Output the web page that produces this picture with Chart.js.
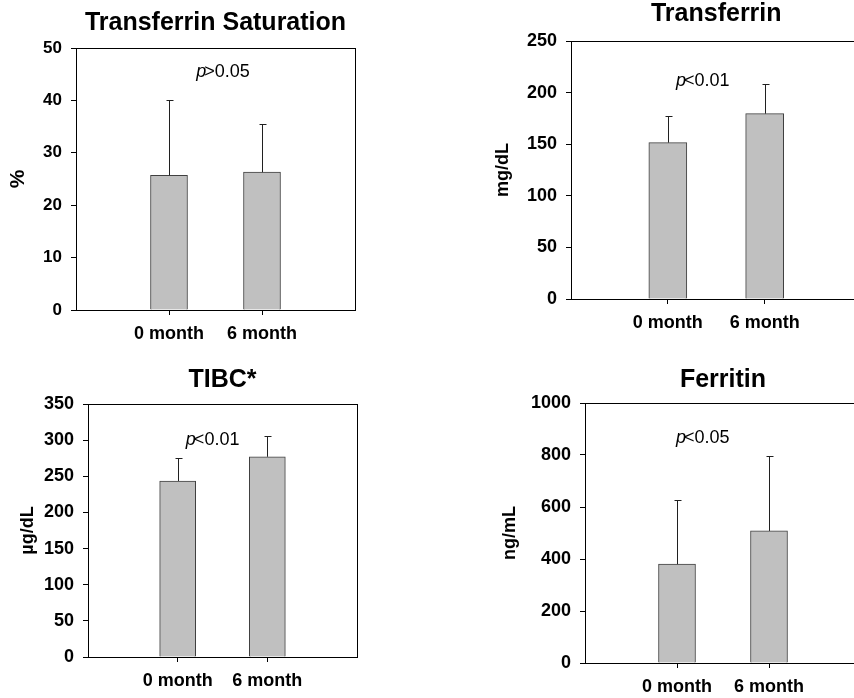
<!DOCTYPE html>
<html>
<head>
<meta charset="utf-8">
<script src="https://cdn.jsdelivr.net/npm/chart.js@4.4.1/dist/chart.umd.min.js"></script>
<style>
  html, body { margin: 0; padding: 0; background: #fff; overflow: hidden; width: 854px; height: 698px; position: relative; }
  canvas { position: absolute; }
</style>
</head>
<body>
<canvas id="satChart" width="430" height="350" style="left:0px;top:0px;width:430px;height:350px"></canvas>
<canvas id="trfChart" width="430" height="350" style="left:440px;top:0px;width:430px;height:350px"></canvas>
<canvas id="tibcChart" width="430" height="348" style="left:0px;top:350px;width:430px;height:348px"></canvas>
<canvas id="ferChart" width="430" height="348" style="left:440px;top:350px;width:430px;height:348px"></canvas>
<script>
// values (mean and upper SD)
const months = ['0 month', '6 month'];

const satMean = [25.7, 26.3];
const satSD = [14.3, 9.2];

const trfMean = [151.5, 179.6];
const trfSD = [25.8, 29.0];

const tibcMean = [243.5, 277.0];
const tibcSD = [31.5, 29.0];

const ferMean = [380, 508];
const ferSD = [246, 289];

const FONT = '"Liberation Sans", Arial, sans-serif';
Chart.defaults.font.family = FONT;
Chart.defaults.color = '#000';

function makePanel(id, p) {
  const canvas = document.getElementById(id);
  const W = canvas.width, H = canvas.height;
  const labels = ['', ...months, ''];

  // upper error bar with a small cap
  const errorBars = {
    id: 'errorBars',
    afterDatasetsDraw(chart) {
      const { ctx, scales: { y } } = chart;
      const meta = chart.getDatasetMeta(0);
      ctx.save();
      ctx.strokeStyle = '#202020';
      ctx.lineWidth = 1;
      p.mean.forEach((m, i) => {
        const bar = meta.data[i + 1];
        const px = Math.round(bar.x) + 0.5;
        const top = Math.round(y.getPixelForValue(m + p.sd[i])) + 0.5;
        ctx.beginPath();
        ctx.moveTo(px, bar.y);
        ctx.lineTo(px, top);
        ctx.moveTo(px - 3, top);
        ctx.lineTo(px + 4, top);
        ctx.stroke();
      });
      ctx.restore();
    }
  };

  // p value text
  const pLabel = {
    id: 'pLabel',
    afterDraw(chart) {
      const { ctx, scales: { x, y } } = chart;
      const cx = x.getPixelForValue(p.pPos[0]);
      const cy = y.getPixelForValue(p.pPos[1]);
      ctx.save();
      ctx.fillStyle = '#000';
      ctx.textBaseline = 'middle';
      ctx.textAlign = 'left';
      ctx.font = 'italic 18px ' + FONT;
      const wp = ctx.measureText('p').width;
      ctx.font = '18px ' + FONT;
      const wr = ctx.measureText(p.pText).width;
      const x0 = cx - (wp + wr - 2) / 2;
      ctx.font = 'italic 18px ' + FONT;
      ctx.fillText('p', x0, cy);
      ctx.font = '18px ' + FONT;
      ctx.fillText(p.pText, x0 + wp - 2, cy);
      ctx.restore();
    }
  };

  // box round the plot area
  const frame = {
    id: 'frame',
    beforeDatasetsDraw(chart) {
      const { ctx, chartArea: a } = chart;
      ctx.save();
      ctx.strokeStyle = '#000';
      ctx.lineWidth = 1;
      ctx.strokeRect(Math.round(a.left) + 0.5, Math.round(a.top) + 0.5,
        Math.round(a.right - a.left), Math.round(a.bottom - a.top));
      ctx.restore();
    }
  };

  return new Chart(canvas, {
    type: 'bar',
    data: {
      labels: labels,
      datasets: [{
        data: [null, ...p.mean, null],
        backgroundColor: '#c0c0c0',
        borderColor: '#404040',
        borderWidth: 1,
        barThickness: p.barW
      }]
    },
    options: {
      responsive: false,
      animation: false,
      layout: { padding: { left: 0, top: 0, bottom: 0, right: W - p.area.right } },
      plugins: {
        legend: { display: false },
        tooltip: { enabled: false },
        title: {
          display: true,
          text: p.title,
          fullSize: false,
          color: '#000',
          font: { size: 25, weight: 'bold', lineHeight: 1 },
          padding: { top: p.titleMid - 12.5, bottom: p.area.top - p.titleMid - 12.5 }
        }
      },
      scales: {
        x: {
          offset: false,
          ticks: { color: '#000', font: { size: 18, weight: 'bold' }, padding: 8.5, autoSkip: false, maxRotation: 0 },
          grid: {
            offset: false,
            drawOnChartArea: false,
            tickLength: 5,
            color: c => (labels[c.index] ? '#000' : 'rgba(0,0,0,0)')
          },
          border: { color: '#000', width: 1 },
          afterFit(s) { s.height = H - p.area.bottom; }
        },
        y: {
          min: 0,
          max: p.yMax,
          ticks: {
            stepSize: p.yStep, color: '#000', padding: 9,
            font: { size: p.tickSize, weight: 'bold' },
            callback: v => String(v)
          },
          grid: { drawOnChartArea: false, tickLength: 5, color: '#000' },
          border: { color: '#000', width: 1 },
          title: {
            display: true,
            text: p.unit,
            color: '#000',
            font: { size: p.unitSize, weight: 'bold', lineHeight: 1.2 },
            padding: { top: p.unitX - p.unitSize * 0.6, bottom: 0 }
          },
          afterFit(s) { s.width = p.area.left; }
        }
      }
    },
    plugins: [frame, errorBars, pLabel]
  });
}

makePanel('satChart', {
  title: 'Transferrin Saturation', unit: '%', unitSize: 21, unitX: 18, tickSize: 17,
  mean: satMean, sd: satSD, yMax: 50, yStep: 10,
  area: { left: 76, right: 355, top: 48, bottom: 310 }, titleMid: 23,
  barW: 37, pText: '>0.05', pPos: [1.58, 45.5]
});

makePanel('trfChart', {
  title: 'Transferrin', unit: 'mg/dL', unitSize: 18, unitX: 63, tickSize: 18,
  mean: trfMean, sd: trfSD, yMax: 250, yStep: 50,
  area: { left: 131, right: 422, top: 41, bottom: 299 }, titleMid: 14.5,
  barW: 38, pText: '<0.01', pPos: [1.36, 210.8]
});

makePanel('tibcChart', {
  title: 'TIBC*', unit: 'µg/dL', unitSize: 18, unitX: 28, tickSize: 18,
  mean: tibcMean, sd: tibcSD, yMax: 350, yStep: 50,
  area: { left: 88, right: 357, top: 54, bottom: 307 }, titleMid: 30.5,
  barW: 36, pText: '<0.01', pPos: [1.39, 300.2]
});

makePanel('ferChart', {
  title: 'Ferritin', unit: 'ng/mL', unitSize: 18, unitX: 70, tickSize: 18,
  mean: ferMean, sd: ferSD, yMax: 1000, yStep: 200,
  area: { left: 145, right: 421, top: 53, bottom: 313 }, titleMid: 30.5,
  barW: 37, pText: '<0.05', pPos: [1.28, 863.5]
});
</script>
</body>
</html>
